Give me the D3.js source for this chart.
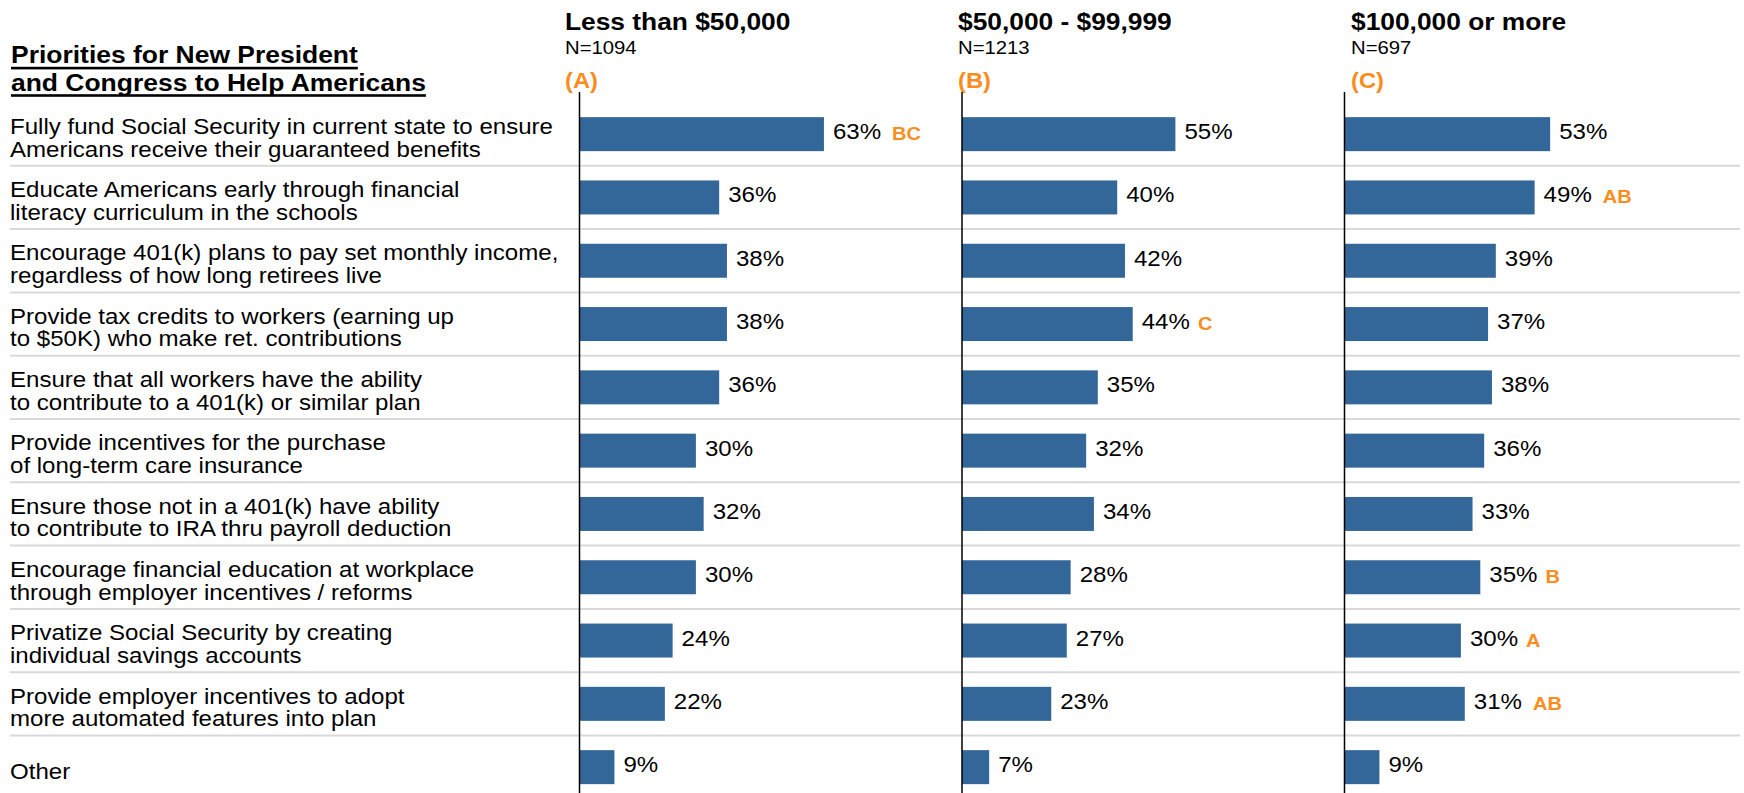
<!DOCTYPE html>
<html>
<head>
<meta charset="utf-8">
<script src="https://cdn.jsdelivr.net/npm/d3@7"></script>
<style>
  html, body { margin: 0; padding: 0; background: #fff; }
  svg { display: block; font-family: "Liberation Sans", Arial, Helvetica, sans-serif; }
</style>
</head>
<body>
<svg id="chart" width="1744" height="793"></svg>
<script>
// ---------------- DATA ----------------
const titleLines = ["Priorities for New President", "and Congress to Help Americans"];

const categories = [
  ["Fully fund Social Security in current state to ensure", "Americans receive their guaranteed benefits"],
  ["Educate Americans early through financial", "literacy curriculum in the schools"],
  ["Encourage 401(k) plans to pay set monthly income,", "regardless of how long retirees live"],
  ["Provide tax credits to workers (earning up", "to $50K) who make ret. contributions"],
  ["Ensure that all workers have the ability", "to contribute to a 401(k) or similar plan"],
  ["Provide incentives for the purchase", "of long-term care insurance"],
  ["Ensure those not in a 401(k) have ability", "to contribute to IRA thru payroll deduction"],
  ["Encourage financial education at workplace", "through employer incentives / reforms"],
  ["Privatize Social Security by creating", "individual savings accounts"],
  ["Provide employer incentives to adopt", "more automated features into plan"],
  ["Other"]
];

const groups      = ["Less than $50,000", "$50,000 - $99,999", "$100,000 or more"];
const sampleSizes = ["N=1094", "N=1213", "N=697"];
const groupCodes  = ["(A)", "(B)", "(C)"];

const valuesA = [63, 36, 38, 38, 36, 30, 32, 30, 24, 22, 9];
const valuesB = [55, 40, 42, 44, 35, 32, 34, 28, 27, 23, 7];
const valuesC = [53, 49, 39, 37, 38, 36, 33, 35, 30, 31, 9];

const sigA = ["BC", "", "", "", "", "", "", "", "", "", ""];
const sigB = ["", "", "", "C", "", "", "", "", "", "", ""];
const sigC = ["", "AB", "", "", "", "", "", "B", "A", "AB", ""];

// ---------------- LAYOUT ----------------
const W = 1744, H = 793;
const SX = 1.08;               // horizontal text stretch of the reference
const BAR = "#336699";
const ORANGE = "#fb8c1e";
const panelAxisX = [579.5, 962, 1344.5];
const panelTitleX = [565, 958, 1351];

const series = [
  { values: valuesA, sig: sigA },
  { values: valuesB, sig: sigB },
  { values: valuesC, sig: sigC }
];

const svg = d3.select("#chart");

const y = d3.scaleBand()
  .domain(d3.range(categories.length))
  .range([102.5, 102.5 + 63.3 * categories.length])
  .paddingInner(0).paddingOuter(0);
const barH = 34;
const x = d3.scaleLinear().domain([0, 100]).range([0, 388]);

function txt(g, str, px, py, size, weight, color) {
  return g.append("text")
    .attr("transform", `translate(${px},${py}) scale(${SX},1)`)
    .attr("font-size", size)
    .attr("font-weight", weight || "normal")
    .attr("fill", color || "#000")
    .text(str);
}

// separators
svg.append("g").selectAll("line")
  .data(d3.range(1, categories.length))
  .join("line")
  .attr("x1", 10).attr("x2", 1740)
  .attr("y1", d => y(d)).attr("y2", d => y(d))
  .attr("stroke", "#d9d9d9").attr("stroke-width", 2);

// main title
const tg = svg.append("g");
titleLines.forEach((line, i) => {
  const by = 63.3 + i * 27.4;
  const t = txt(tg, line, 11, by, 24.5, "bold");
  const w = t.node().getComputedTextLength() * SX;
  tg.append("rect").attr("x", 11).attr("y", by + 3.5).attr("width", w).attr("height", 2.6).attr("fill", "#000");
});

// category labels
const lg = svg.append("g");
categories.forEach((lines, i) => {
  const c = y(i) + y.bandwidth() / 2;
  if (lines.length === 1) {
    txt(lg, lines[0], 10, c + 11.5, 22.3);
  } else {
    lines.forEach((l, j) => txt(lg, l, 10, c - 0.3 + j * 22.7, 22.3));
  }
});

// panels
series.forEach((s, k) => {
  const g = svg.append("g");
  const ax = panelAxisX[k];
  txt(g, groups[k], panelTitleX[k], 30, 24.4, "bold");
  txt(g, sampleSizes[k], panelTitleX[k], 53.5, 18.8);
  txt(g, groupCodes[k], panelTitleX[k], 88, 22, "bold", ORANGE);

  g.selectAll("rect.bar")
    .data(s.values)
    .join("rect")
    .attr("class", "bar")
    .attr("x", ax)
    .attr("y", (d, i) => y(i) + y.bandwidth() / 2 - barH / 2)
    .attr("width", d => x(d))
    .attr("height", barH)
    .attr("fill", BAR);

  s.values.forEach((v, i) => {
    const c = y(i) + y.bandwidth() / 2;
    const lx = ax + x(v) + 9;
    const t = txt(g, v + "%", lx, c + 5, 22.3);
    if (s.sig[i]) {
      const w = t.node().getComputedTextLength() * SX;
      const gap = s.sig[i].length > 1 ? 11 : 8;
      txt(g, s.sig[i], lx + w + gap, c + 6, 18.5, "bold", ORANGE);
    }
  });

  g.append("line")
    .attr("x1", ax).attr("x2", ax)
    .attr("y1", 92).attr("y2", H)
    .attr("stroke", "#000").attr("stroke-width", 1.5);
});
</script>
</body>
</html>
